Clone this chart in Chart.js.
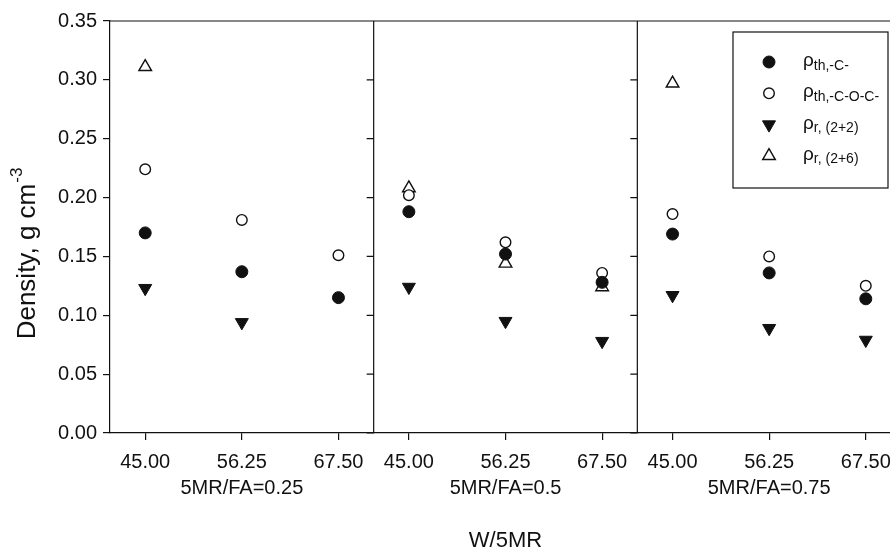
<!DOCTYPE html>
<html><head><meta charset="utf-8">
<script src="https://cdn.jsdelivr.net/npm/chart.js@4.4.1/dist/chart.umd.min.js"></script>
<style>
html,body{margin:0;padding:0;overflow:hidden;background:#fff;width:890px;height:550px}
#wrap{position:relative;width:912px;height:550px}
</style></head>
<body><div id="wrap"><canvas id="c"></canvas></div>
<script>
// ---- data ----
const wRatios = [45.00, 56.25, 67.50];
const panelLabels = ['5MR/FA=0.25', '5MR/FA=0.5', '5MR/FA=0.75'];
const yTicks = [0, 0.05, 0.10, 0.15, 0.20, 0.25, 0.30, 0.35];
const rhoThC   = [[0.170, 0.137, 0.115], [0.188, 0.152, 0.128], [0.169, 0.136, 0.114]];
const rhoThCOC = [[0.224, 0.181, 0.151], [0.202, 0.162, 0.136], [0.186, 0.150, 0.125]];
const rhoR22   = [[0.123, 0.094, null], [0.124, 0.095, 0.078], [0.117, 0.089, 0.079]];
const rhoR26   = [[0.311, null, null], [0.208, 0.144, 0.124], [0.297, null, null]];
const xTitle = 'W/5MR';
const yTitle = 'Density, g cm';
const yTitleSup = '-3';
const legendMain = 'ρ';
const legendSubs = ['th,-C-', 'th,-C-O-C-', 'r, (2+2)', 'r, (2+6)'];

// ---- styles ----
const FONT = "'Liberation Sans', Arial, sans-serif";
const INK = '#111';
const seriesValues = [rhoThC, rhoThCOC, rhoR22, rhoR26];
const seriesStyles = [
  {pointStyle: 'circle', radius: 6, rotation: 0, bg: INK, borderWidth: 1},
  {pointStyle: 'circle', radius: 5.3, rotation: 0, bg: '#fff', borderWidth: 1.4},
  {pointStyle: 'triangle', radius: 7.5, rotation: 180, bg: INK, borderWidth: 1},
  {pointStyle: 'triangle', radius: 7.3, rotation: 0, bg: '#fff', borderWidth: 1.4}
];

const datasets = [];
panelLabels.forEach((pl, p) => {
  seriesValues.forEach((ser, s) => {
    const st = seriesStyles[s];
    const pts = [];
    wRatios.forEach((w, i) => { if (ser[p][i] !== null) pts.push({x: w, y: ser[p][i]}); });
    datasets.push({
      label: legendMain + legendSubs[s] + ' ' + pl,
      data: pts,
      xAxisID: 'x' + (p + 1),
      yAxisID: 'y',
      showLine: false,
      pointStyle: st.pointStyle,
      pointRotation: st.rotation,
      pointRadius: st.radius,
      pointHoverRadius: st.radius,
      pointBackgroundColor: st.bg,
      pointBorderColor: INK,
      pointBorderWidth: st.borderWidth
    });
  });
});

function xScale(p) {
  return {
    type: 'linear',
    position: 'bottom',
    stack: 'panels',
    stackWeight: 1,
    min: 40.9,
    max: 71.6,
    afterBuildTicks: sc => { sc.ticks = wRatios.map(v => ({value: v})); },
    afterFit: sc => { sc.height = 117; sc.paddingLeft = 0; sc.paddingRight = 0; },
    ticks: {
      autoSkip: false, maxRotation: 0, padding: 10, color: INK,
      font: {family: FONT, size: 20},
      callback: v => Number(v).toFixed(2)
    },
    grid: {drawOnChartArea: false, drawTicks: true, tickLength: 7, color: INK, lineWidth: 1.2},
    border: {display: true, color: INK, width: 1.2},
    title: {display: true, text: panelLabels[p], color: INK,
            font: {family: FONT, size: 20}, padding: {top: 0, bottom: 50}}
  };
}

const framePlugin = {
  id: 'frame',
  beforeDatasetsDraw(chart) {
    const {ctx, chartArea: a, scales} = chart;
    ctx.save();
    ctx.strokeStyle = INK;
    ctx.lineWidth = 1.2;
    ctx.beginPath();
    ctx.moveTo(a.left, a.top); ctx.lineTo(a.right, a.top);
    const divs = [scales.x2.left, scales.x3.left, a.right];
    divs.forEach(dx => {
      ctx.moveTo(dx, a.top); ctx.lineTo(dx, a.bottom);
      yTicks.forEach(v => {
        const py = scales.y.getPixelForValue(v);
        ctx.moveTo(dx - 7, py); ctx.lineTo(dx, py);
      });
    });
    ctx.stroke();
    ctx.restore();
  },
  afterDraw(chart) {
    const {ctx, chartArea: a} = chart;
    ctx.save();
    ctx.fillStyle = INK;
    // bottom axis title
    ctx.font = '22px ' + FONT;
    ctx.textAlign = 'center';
    ctx.textBaseline = 'middle';
    ctx.fillText(xTitle, (a.left + a.right) / 2, 541);
    // y axis title with superscript
    ctx.translate(26, 254);
    ctx.rotate(-Math.PI / 2);
    ctx.font = '26px ' + FONT;
    const w1 = ctx.measureText(yTitle).width;
    ctx.font = '17px ' + FONT;
    const w2 = ctx.measureText(yTitleSup).width;
    const x0 = -(w1 + w2) / 2;
    ctx.textAlign = 'left';
    ctx.textBaseline = 'alphabetic';
    ctx.font = '26px ' + FONT;
    ctx.fillText(yTitle, x0, 9);
    ctx.font = '17px ' + FONT;
    ctx.fillText(yTitleSup, x0 + w1 + 1, -4);
    ctx.restore();

    // legend
    ctx.save();
    const lx = a.right - 168, ly = a.top + 11, lw = 155, lh = 156;
    ctx.fillStyle = '#fff';
    ctx.fillRect(lx, ly, lw, lh);
    ctx.strokeStyle = INK;
    ctx.lineWidth = 1.2;
    ctx.strokeRect(lx, ly, lw, lh);
    seriesStyles.forEach((st, i) => {
      const cy = ly + 30 + i * 31.3;
      ctx.fillStyle = st.bg;
      ctx.strokeStyle = INK;
      ctx.lineWidth = st.borderWidth;
      Chart.helpers.drawPoint(ctx, {pointStyle: st.pointStyle, rotation: st.rotation,
        radius: st.radius, borderWidth: st.borderWidth}, lx + 36, cy);
      ctx.fillStyle = INK;
      ctx.textAlign = 'left';
      ctx.textBaseline = 'alphabetic';
      ctx.font = '19px ' + FONT;
      ctx.fillText(legendMain, lx + 70, cy + 4);
      const rw = ctx.measureText(legendMain).width;
      ctx.font = '14px ' + FONT;
      ctx.fillText(legendSubs[i], lx + 70 + rw, cy + 7.5);
    });
    ctx.restore();
  }
};

new Chart(document.getElementById('c'), {
  type: 'scatter',
  data: {datasets},
  options: {
    responsive: true,
    maintainAspectRatio: false,
    animation: false,
    devicePixelRatio: 1,
    layout: {padding: {top: 21, right: 11, left: 0, bottom: 0}},
    plugins: {legend: {display: false}, tooltip: {enabled: false}, title: {display: false}},
    scales: {
      x1: xScale(0),
      x2: xScale(1),
      x3: xScale(2),
      y: {
        type: 'linear',
        position: 'left',
        min: 0,
        max: 0.35,
        afterBuildTicks: sc => { sc.ticks = yTicks.map(v => ({value: v})); },
        afterFit: sc => { sc.width = 110; },
        ticks: {color: INK, padding: 6, font: {family: FONT, size: 20},
                callback: v => Number(v).toFixed(2)},
        grid: {drawOnChartArea: false, drawTicks: true, tickLength: 7, color: INK, lineWidth: 1.2},
        border: {display: true, color: INK, width: 1.2}
      }
    }
  },
  plugins: [framePlugin]
});
</script>
</body></html>
